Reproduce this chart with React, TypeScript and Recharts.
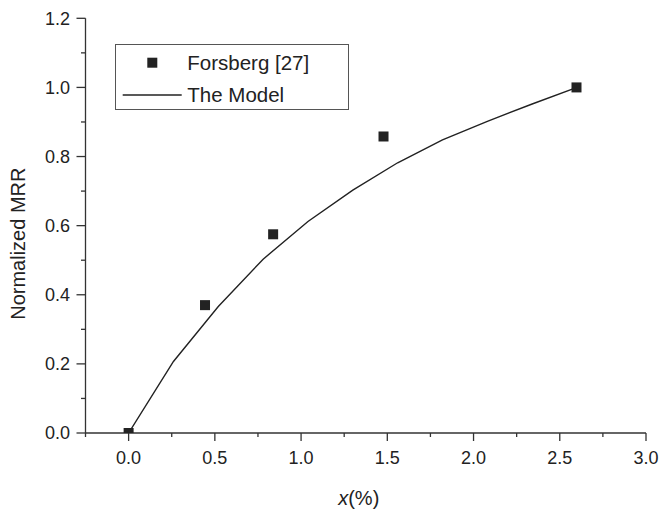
import React from "react";
import {
  ComposedChart,
  Line,
  Scatter,
  XAxis,
  YAxis,
  Legend,
} from "recharts";

// Model curve (normalized MRR vs. x)
const modelX = [0, 0.26, 0.52, 0.78, 1.04, 1.3, 1.56, 1.82, 2.08, 2.34, 2.6];
const modelY = [0, 0.207, 0.366, 0.503, 0.612, 0.703, 0.782, 0.848, 0.902, 0.952, 1.0];

// Measured points, Forsberg [27]
const expX = [0, 0.443, 0.838, 1.478, 2.597];
const expY = [0, 0.37, 0.575, 0.858, 1.0];

// Axis ticks (major + minor)
const xTicks = [-0.25, 0, 0.25, 0.5, 0.75, 1.0, 1.25, 1.5, 1.75, 2.0, 2.25, 2.5, 2.75, 3.0];
const yTicks = [0, 0.1, 0.2, 0.3, 0.4, 0.5, 0.6, 0.7, 0.8, 0.9, 1.0, 1.1, 1.2];

const modelData = modelX.map((x, i) => ({ x, y: modelY[i] }));
const expData = expX.map((x, i) => ({ x, y: expY[i] }));

const FONT = '"Liberation Sans", Arial, Helvetica, sans-serif';
const INK = "#222";
const AXIS = "#333";

const X_TICK = 8;
const X_MARGIN = 10.7;
const Y_TICK = 9;
const Y_MARGIN = 6.5;

const isMajorX = (v: number) => Math.abs(v * 2 - Math.round(v * 2)) < 1e-6;
const isMajorY = (v: number) => Math.round(v * 10) % 2 === 0;

const XTick = (props: any) => {
  const { x, y, payload } = props;
  const v = payload.value as number;
  const major = isMajorX(v);
  const axisY = y - X_MARGIN - X_TICK;
  return (
    <g>
      <line x1={x} x2={x} y1={axisY} y2={axisY + (major ? X_TICK : 4)} stroke={AXIS} strokeWidth={1.3} />
      {major && (
        <text x={x} y={y} dy="0.71em" textAnchor="middle" fontSize={18} fontFamily={FONT} fill={INK}>
          {v.toFixed(1)}
        </text>
      )}
    </g>
  );
};

const YTick = (props: any) => {
  const { x, y, payload } = props;
  const v = payload.value as number;
  const major = isMajorY(v);
  const axisX = x + Y_MARGIN + Y_TICK;
  return (
    <g>
      <line x1={axisX - (major ? Y_TICK : 4.5)} x2={axisX} y1={y} y2={y} stroke={AXIS} strokeWidth={1.3} />
      {major && (
        <text x={x} y={y} dy="0.355em" textAnchor="end" fontSize={18} fontFamily={FONT} fill={INK}>
          {v.toFixed(1)}
        </text>
      )}
    </g>
  );
};

const SquareDot = (props: any) => {
  const { cx, cy } = props;
  if (cx == null || cy == null) return null;
  return <rect x={cx - 5} y={cy - 5} width={10} height={10} fill={INK} />;
};

const LegendBox = () => (
  <svg width={234} height={66} style={{ display: "block" }}>
    <rect x={0.5} y={0.5} width={233} height={65} fill="#fff" stroke="#555" strokeWidth={1} />
    <rect x={32.3} y={13.7} width={10} height={10} fill={INK} />
    <text x={72.3} y={18.7} dy="0.355em" fontSize={20.5} fontFamily={FONT} fill={INK}>
      Forsberg [27]
    </text>
    <line x1={7.7} x2={66.7} y1={51} y2={51} stroke={INK} strokeWidth={1.4} />
    <text x={72.3} y={51} dy="0.355em" fontSize={20.5} fontFamily={FONT} fill={INK}>
      The Model
    </text>
  </svg>
);

const XLabel = (props: any) => {
  const { viewBox } = props;
  const cx = viewBox.x + viewBox.width / 2 - 7;
  return (
    <text x={cx} y={505} textAnchor="middle" fontSize={20} fontFamily={FONT} fill={INK}>
      <tspan fontStyle="italic">x</tspan>
      <tspan>(%)</tspan>
    </text>
  );
};

const YLabel = (props: any) => {
  const { viewBox } = props;
  const cy = viewBox.y + viewBox.height / 2 + 18;
  const lx = 25;
  return (
    <text
      x={lx}
      y={cy}
      transform={`rotate(-90, ${lx}, ${cy})`}
      textAnchor="middle"
      fontSize={20}
      fontFamily={FONT}
      fill={INK}
    >
      Normalized MRR
    </text>
  );
};

export default function App() {
  return (
    <div style={{ position: "absolute", left: 0, top: 0, width: 659, height: 511, background: "#fff" }}>
      <ComposedChart
        width={659}
        height={511}
        margin={{ top: 18.3, right: 13, bottom: 0, left: 0 }}
      >
        <XAxis
          type="number"
          dataKey="x"
          domain={[-0.25, 3.0]}
          ticks={xTicks}
          interval={0}
          height={78}
          allowDataOverflow
          tickSize={X_TICK}
          tickMargin={X_MARGIN}
          tickLine={false}
          axisLine={{ stroke: AXIS, strokeWidth: 1.3 }}
          tick={<XTick />}
          label={<XLabel />}
        />
        <YAxis
          type="number"
          dataKey="y"
          domain={[0, 1.2]}
          ticks={yTicks}
          interval={0}
          width={85.5}
          allowDataOverflow
          tickSize={Y_TICK}
          tickMargin={Y_MARGIN}
          tickLine={false}
          axisLine={{ stroke: AXIS, strokeWidth: 1.3 }}
          tick={<YTick />}
          label={<YLabel />}
        />
        <Legend
          layout="vertical"
          align="center"
          verticalAlign="middle"
          wrapperStyle={{ left: 115, top: 44, width: 234, height: 66 }}
          content={<LegendBox />}
        />
        <Line
          data={modelData}
          dataKey="y"
          type="linear"
          stroke={INK}
          strokeWidth={1.4}
          dot={false}
          activeDot={false}
          isAnimationActive={false}
          name="The Model"
        />
        <Scatter
          data={expData}
          dataKey="y"
          fill={INK}
          shape={<SquareDot />}
          isAnimationActive={false}
          name="Forsberg [27]"
        />
      </ComposedChart>
    </div>
  );
}
